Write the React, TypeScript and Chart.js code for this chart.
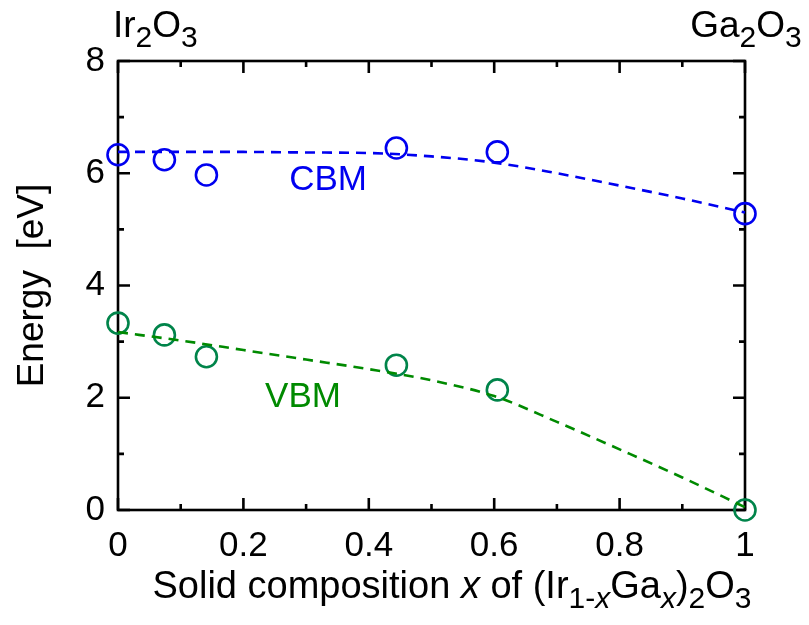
import { useEffect, useRef } from 'react';
import { Chart, registerables } from 'chart.js';

Chart.register(...registerables);

// ---- data ----
const compositionX = [0, 0.074, 0.141, 0.444, 0.605, 1];
const cbmValues = [6.33, 6.24, 5.97, 6.45, 6.38, 5.28];
const vbmValues = [3.33, 3.12, 2.73, 2.58, 2.14, 0.0];

const fitX = [0, 0.1, 0.2, 0.3, 0.4, 0.5, 0.6, 0.7, 0.8, 0.9, 1.0];
const cbmFit = [6.38, 6.38, 6.38, 6.37, 6.36, 6.3, 6.19, 6.0, 5.78, 5.55, 5.3];
const vbmFit = [3.17, 3.02, 2.85, 2.68, 2.51, 2.31, 2.03, 1.57, 1.08, 0.58, 0.05];

const bandLabels = ['CBM', 'VBM'];
const bandLabelX = [0.335, 0.295];
const bandLabelY = [5.87, 2.0];

const xMin = 0;
const xMax = 1;
const xStep = 0.2;
const yMin = 0;
const yMax = 8;
const yStep = 2;

const FONT = '"Liberation Sans", Arial, Helvetica, sans-serif';
const BLUE = '#0000f0';
const GREEN_PT = '#00844a';
const GREEN_LN = '#008a00';
const TICK_SIZE = 35;
const TEXT_SIZE = 37;

type Run = { t: string; sub?: boolean; it?: boolean };

const xTitleRuns: Run[] = [
  { t: 'Solid composition ' },
  { t: 'x', it: true },
  { t: ' of (Ir' },
  { t: '1-', sub: true },
  { t: 'x', sub: true, it: true },
  { t: 'Ga' },
  { t: 'x', sub: true, it: true },
  { t: ')' },
  { t: '2', sub: true },
  { t: 'O' },
  { t: '3', sub: true },
];
const leftTopRuns: Run[] = [{ t: 'Ir' }, { t: '2', sub: true }, { t: 'O' }, { t: '3', sub: true }];
const rightTopRuns: Run[] = [{ t: 'Ga' }, { t: '2', sub: true }, { t: 'O' }, { t: '3', sub: true }];

function drawRich(
  ctx: CanvasRenderingContext2D,
  runs: Run[],
  x: number,
  y: number,
  size: number,
  align: 'left' | 'center' | 'right',
) {
  const subSize = Math.round(size * 0.8);
  const fontOf = (r: Run) => `${r.it ? 'italic ' : ''}${r.sub ? subSize : size}px ${FONT}`;
  const widths = runs.map((r) => {
    ctx.font = fontOf(r);
    return ctx.measureText(r.t).width;
  });
  const total = widths.reduce((a, b) => a + b, 0);
  let cx = align === 'center' ? x - total / 2 : align === 'right' ? x - total : x;
  ctx.textAlign = 'left';
  ctx.textBaseline = 'alphabetic';
  runs.forEach((r, i) => {
    ctx.font = fontOf(r);
    ctx.fillText(r.t, cx, y + (r.sub ? size * 0.27 : 0));
    cx += widths[i];
  });
}

const framePlugin = {
  id: 'frameAndText',
  beforeDatasetsDraw(chart: any) {
    const { ctx, chartArea } = chart;
    const xs = chart.scales.x;
    const ys = chart.scales.y;
    const { left, right, top, bottom } = chartArea;
    ctx.save();
    ctx.strokeStyle = '#000';
    ctx.lineWidth = 2.6;
    ctx.lineCap = 'butt';
    ctx.strokeRect(left, top, right - left, bottom - top);
    const major = 12;
    const minor = 6;
    const xTicks = xs.ticks.map((t: any) => t.value);
    const yTicks = ys.ticks.map((t: any) => t.value);
    ctx.beginPath();
    const xTickDraw = (v: number, len: number) => {
      const px = xs.getPixelForValue(v);
      ctx.moveTo(px, bottom);
      ctx.lineTo(px, bottom - len);
      ctx.moveTo(px, top);
      ctx.lineTo(px, top + len);
    };
    const yTickDraw = (v: number, len: number) => {
      const py = ys.getPixelForValue(v);
      ctx.moveTo(left, py);
      ctx.lineTo(left + len, py);
      ctx.moveTo(right, py);
      ctx.lineTo(right - len, py);
    };
    xTicks.forEach((v: number, i: number) => {
      xTickDraw(v, major);
      if (i < xTicks.length - 1) xTickDraw((v + xTicks[i + 1]) / 2, minor);
    });
    yTicks.forEach((v: number, i: number) => {
      yTickDraw(v, major);
      if (i < yTicks.length - 1) yTickDraw((v + yTicks[i + 1]) / 2, minor);
    });
    ctx.stroke();
    ctx.restore();
  },
  afterDraw(chart: any) {
    const { ctx, chartArea } = chart;
    const xs = chart.scales.x;
    const ys = chart.scales.y;
    ctx.save();
    ctx.fillStyle = '#000';
    // x-axis title
    drawRich(ctx, xTitleRuns, 452, 598, 38, 'center');
    // top composition labels
    drawRich(ctx, leftTopRuns, xs.getPixelForValue(xMin) - 5, 37, TEXT_SIZE, 'left');
    drawRich(ctx, rightTopRuns, xs.getPixelForValue(xMax) + 1, 37, TEXT_SIZE, 'center');
    // y title
    ctx.translate(33, (chartArea.top + chartArea.bottom) / 2);
    ctx.rotate(-Math.PI / 2);
    ctx.font = `${TEXT_SIZE}px ${FONT}`;
    ctx.textAlign = 'center';
    ctx.textBaseline = 'middle';
    ctx.fillText('Energy  [eV]', 0, 0);
    ctx.restore();
    // band labels
    ctx.save();
    ctx.font = `35px ${FONT}`;
    ctx.textAlign = 'center';
    ctx.textBaseline = 'middle';
    bandLabels.forEach((lab, i) => {
      ctx.fillStyle = i === 0 ? BLUE : GREEN_LN;
      ctx.fillText(lab, xs.getPixelForValue(bandLabelX[i]), ys.getPixelForValue(bandLabelY[i]));
    });
    ctx.restore();
  },
};

export default function App() {
  const ref = useRef<HTMLCanvasElement>(null);
  useEffect(() => {
    if (!ref.current) return;
    const pts = (xs: number[], ys: number[]) => xs.map((x, i) => ({ x, y: ys[i] }));
    const chart = new Chart(ref.current, {
      type: 'scatter',
      data: {
        datasets: [
          {
            label: 'CBM fit',
            data: pts(fitX, cbmFit),
            showLine: true,
            borderColor: BLUE,
            borderWidth: 2.6,
            borderDash: [10, 7],
            pointRadius: 0,
            tension: 0.4,
            cubicInterpolationMode: 'monotone',
            clip: false,
          },
          {
            label: 'VBM fit',
            data: pts(fitX, vbmFit),
            showLine: true,
            borderColor: GREEN_LN,
            borderWidth: 2.6,
            borderDash: [10, 7],
            pointRadius: 0,
            tension: 0.4,
            cubicInterpolationMode: 'monotone',
            clip: false,
          },
          {
            label: 'CBM',
            data: pts(compositionX, cbmValues),
            showLine: false,
            pointStyle: 'circle',
            pointRadius: 10.5,
            pointBorderWidth: 2.6,
            pointBorderColor: BLUE,
            pointBackgroundColor: 'rgba(0,0,0,0)',
            clip: false,
          },
          {
            label: 'VBM',
            data: pts(compositionX, vbmValues),
            showLine: false,
            pointStyle: 'circle',
            pointRadius: 10.5,
            pointBorderWidth: 2.6,
            pointBorderColor: GREEN_PT,
            pointBackgroundColor: 'rgba(0,0,0,0)',
            clip: false,
          },
        ] as any,
      },
      options: {
        animation: false,
        responsive: false,
        maintainAspectRatio: false,
        layout: { padding: { top: 61, right: 64, left: 0, bottom: 0 } },
        plugins: { legend: { display: false }, tooltip: { enabled: false } },
        scales: {
          x: {
            type: 'linear',
            min: xMin,
            max: xMax,
            grid: { display: false, drawTicks: false },
            border: { display: false },
            ticks: {
              stepSize: xStep,
              padding: 15,
              color: '#000',
              font: { family: FONT, size: TICK_SIZE },
              maxRotation: 0,
              autoSkip: false,
              callback: (v: any) => String(Math.round(Number(v) * 10) / 10),
            },
            afterFit: (s: any) => {
              s.height = 115;
            },
          },
          y: {
            type: 'linear',
            min: yMin,
            max: yMax,
            grid: { display: false, drawTicks: false },
            border: { display: false },
            ticks: {
              stepSize: yStep,
              padding: 13,
              color: '#000',
              font: { family: FONT, size: TICK_SIZE },
            },
            afterFit: (s: any) => {
              s.width = 118;
            },
          },
        },
      },
      plugins: [framePlugin],
    });
    return () => chart.destroy();
  }, []);
  return (
    <div style={{ position: 'absolute', left: 0, top: 0, width: 809, height: 625, background: '#fff' }}>
      <canvas ref={ref} width={809} height={625} style={{ width: 809, height: 625 }} />
    </div>
  );
}
